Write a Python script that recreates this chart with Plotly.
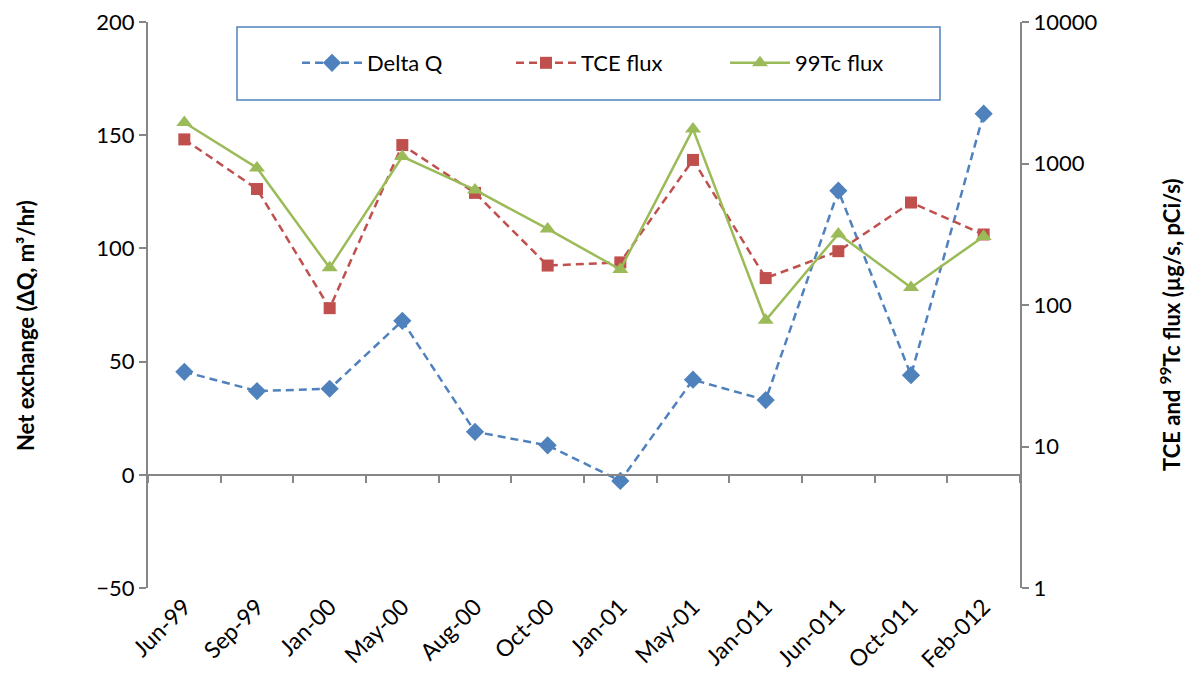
import plotly.graph_objects as go

categories = ["Jun-99", "Sep-99", "Jan-00", "May-00", "Aug-00", "Oct-00",
              "Jan-01", "May-01", "Jan-011", "Jun-011", "Oct-011", "Feb-012"]
delta_q = [45.5, 37, 38, 68, 19, 13, -2.7, 42, 33, 125.5, 44, 159.5]
tce_flux = [1480, 660, 95, 1350, 620, 190, 200, 1060, 155, 240, 530, 315]
tc99_flux = [1950, 930, 183, 1120, 650, 345, 178, 1750, 78, 318, 133, 305]

FONT = "Lato, 'Open Sans', sans-serif"
AX = "#868686"
OFF = 8  # page body margin
W, H = 1194 - OFF, 685 - OFF
L, R, T, B = 148 - OFF, 1020 - OFF, 22 - OFF, 588 - OFF


def px(x):
    return (x - OFF - L) / (R - L)


def py(y):
    return (B - (y - OFF)) / (B - T)


fig = go.Figure()
fig.add_trace(go.Scatter(
    x=categories, y=delta_q, name="Delta Q", mode="lines+markers",
    line=dict(color="#4F81BD", width=2.5, dash="8px,5px"),
    marker=dict(symbol="diamond", size=14, color="#4F81BD"), yaxis="y"))
fig.add_trace(go.Scatter(
    x=categories, y=tce_flux, name="TCE flux", mode="lines+markers",
    line=dict(color="#C0504D", width=2.5, dash="8px,5px"),
    marker=dict(symbol="square", size=12, color="#C0504D"), yaxis="y2"))
fig.add_trace(go.Scatter(
    x=categories, y=tc99_flux, name="99Tc flux", mode="lines+markers",
    line=dict(color="#9BBB59", width=2.5),
    marker=dict(symbol="triangle-up", size=14, color="#9BBB59"), yaxis="y2"))
# invisible trace on x2 so the axis crossing at zero shows its ticks
fig.add_trace(go.Scatter(x=categories, y=[None]*len(categories), xaxis="x2",
                         showlegend=False, hoverinfo="skip"))

fig.update_layout(
    width=W, height=H,
    margin=dict(l=L, r=W-R, t=T, b=H-B),
    paper_bgcolor="white", plot_bgcolor="white",
    font=dict(family=FONT, size=22, color="black"),
    showlegend=True,
    legend=dict(orientation="h", x=px(297), xanchor="left",
                y=py(63), yanchor="middle",
                font=dict(size=22), bgcolor="rgba(0,0,0,0)", entrywidth=139,
                itemwidth=60),
    xaxis=dict(type="category", categoryorder="array", categoryarray=categories,
               range=[-0.5, 11.5], showline=False, ticks="", tickangle=-45,
               tickfont=dict(size=23), showgrid=False, zeroline=False,
               automargin=False),
    xaxis2=dict(type="category", categoryorder="array", categoryarray=categories,
                range=[-0.5, 11.5], overlaying="x", anchor="free", position=0.2,
                showline=True, linecolor=AX, linewidth=2, ticks="outside",
                ticklen=7, tickcolor=AX, tickwidth=2, tickson="boundaries",
                showticklabels=False, showgrid=False, side="bottom",
                automargin=False),
    yaxis=dict(range=[-50, 200], dtick=50, showline=True, linecolor=AX, linewidth=2,
               ticks="outside", ticklen=7, tickcolor=AX, tickwidth=2,
               showgrid=False, zeroline=False, automargin=False,
               ticklabeloverflow="allow"),
    yaxis2=dict(type="log", range=[0, 4], overlaying="y", side="right",
                tickvals=[1, 10, 100, 1000, 10000],
                ticktext=["1", "10", "100", "1000", "10000"],
                showline=True, linecolor=AX, linewidth=2,
                ticks="outside", ticklen=7, tickcolor=AX, tickwidth=2,
                showgrid=False, zeroline=False, automargin=False,
                ticklabeloverflow="allow"),
    annotations=[
        dict(text="<b>Net exchange (ΔQ, m³/hr)</b>", textangle=-90,
             xref="paper", yref="paper", x=px(25), y=py(326),
             xanchor="center", yanchor="middle", showarrow=False,
             font=dict(size=22)),
        dict(text="<b>TCE and <sup>99</sup>Tc flux (µg/s, pCi/s)</b>", textangle=-90,
             xref="paper", yref="paper", x=px(1170), y=py(325),
             xanchor="center", yanchor="middle", showarrow=False,
             font=dict(size=22)),
    ],
    shapes=[dict(type="rect", xref="paper", yref="paper",
                 x0=px(237), x1=px(940), y0=py(100), y1=py(27),
                 line=dict(color="#4F81BD", width=1.5), fillcolor="rgba(0,0,0,0)")],
)

fig.write_html("out.html")
